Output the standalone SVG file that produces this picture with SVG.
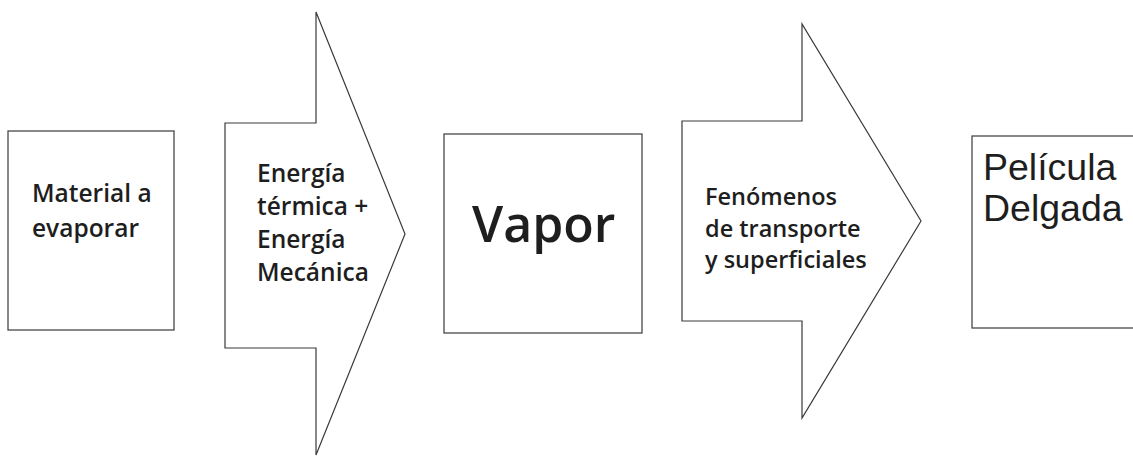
<svg xmlns="http://www.w3.org/2000/svg" width="1133" height="456" viewBox="0 0 1133 456">
<style>
.shape{fill:#ffffff;stroke:#3a3a3a;stroke-width:1.2}
.t{font-family:"Open Sans","DejaVu Sans",sans-serif;font-weight:600;fill:#1e1e1e}
.a{font-family:"Liberation Sans",Arial,sans-serif;fill:#1e1e1e}
</style>
<rect width="1133" height="456" fill="#ffffff"/>
<g id="material">
<rect class="shape" x="8" y="131" width="166" height="199"/>
<text class="t" font-size="24.5"><tspan x="32" y="202">Material a</tspan><tspan x="32" y="237">evaporar</tspan></text>
</g>
<g id="connectors">
<g id="energia">
<polygon class="shape" points="225,123 316,123 316,12 405,234 316,455 316,348 225,348"/>
<text class="t" font-size="24.5"><tspan x="257" y="182">Energía</tspan><tspan x="257" y="215">térmica +</tspan><tspan x="257" y="248">Energía</tspan><tspan x="257" y="281">Mecánica</tspan></text>
</g>
<g id="fenomenos">
<polygon class="shape" points="682,121 802,121 802,24 921,221 802,418 802,321 682,321"/>
<text class="t" font-size="23.5"><tspan x="705" y="205">Fenómenos</tspan><tspan x="705" y="237">de transporte</tspan><tspan x="705" y="268">y superficiales</tspan></text>
</g>
</g>
<g id="vapor">
<rect class="shape" x="444" y="134" width="198" height="199"/>
<text class="t" font-size="50" x="472" y="242">Vapor</text>
</g>
<g id="pelicula">
<rect class="shape" x="972" y="136" width="175" height="192"/>
<text class="a" font-size="37.5"><tspan x="983" y="180">Película</tspan><tspan x="983" y="221">Delgada</tspan></text>
</g>
</svg>
